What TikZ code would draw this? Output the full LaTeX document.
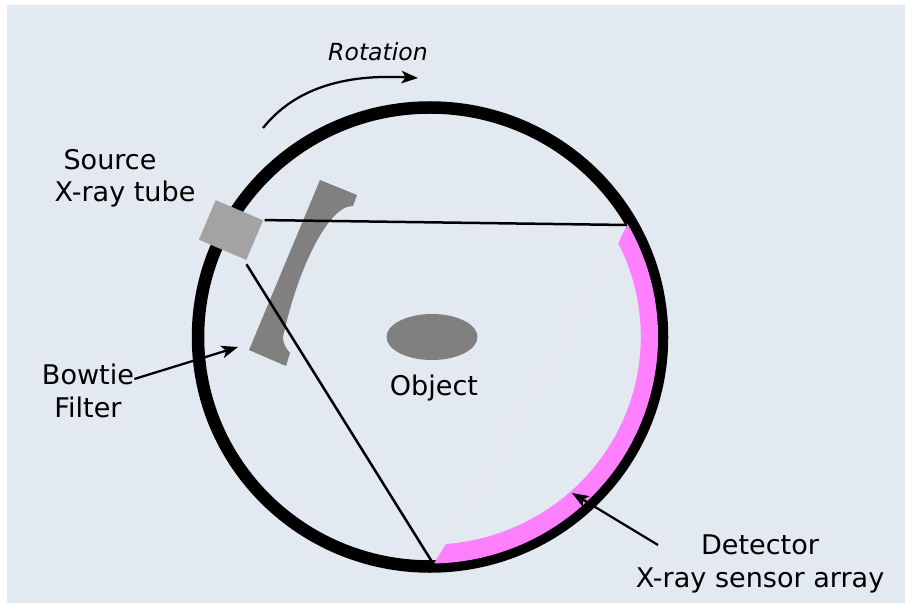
\documentclass[tikz,border=0pt]{standalone}
\usepackage{fontspec}
\setmainfont{DejaVu Sans}
\usetikzlibrary{positioning, arrows.meta, shapes.geometric}
\definecolor{panelbg}{HTML}{E2E9F0}
\definecolor{sensorpink}{HTML}{FF80FF}

\begin{document}
\begin{tikzpicture}[
    x=0.02cm,
    y=-0.02cm,
    >={Stealth[length=0.33cm, width=0.25cm, inset=0.08cm]},
    label/.style={font=\fontsize{15.4}{19}\selectfont, align=center, inner sep=0pt},
    ray/.style={line width=0.05cm},
    pointer/.style={->, line width=0.045cm}
]
\useasboundingbox (0,0) rectangle (905,604);
\fill[white] (0,0) rectangle (905,604);
\fill[panelbg] (7,5) rectangle (905,603);

% -------------------------
% GANTRY AND DETECTOR
% -------------------------
\coordinate (Centre) at (430,337);
\coordinate (RayTop) at (627,225);
\coordinate (RayBottom) at (434,565);
\coordinate (ArrayTop) at (618,243);
\coordinate (ArrayBottom) at (446,544);

\draw[line width=0.25cm] (Centre) ellipse [x radius=232, y radius=229.5];

\fill[sensorpink] (Centre) ++(-30:228 and 226.5) arc [start angle=-30, end angle=89, x radius=228, y radius=226.5]
    -- (ArrayBottom) arc [start angle=85.6, end angle=-26.7, x radius=211, y radius=208] -- cycle;
\draw[sensorpink!25, line width=0.006cm] (ArrayTop) -- (ArrayBottom);

% -------------------------
% SOURCE AND FILTER
% -------------------------
\node[draw=none, fill=black!36, rotate=-23, minimum width=1.03cm, minimum height=0.86cm, inner sep=0pt] (Tube) at (231,230) {};

\fill[black!50] (320,180) -- (357,195) -- (353,206) -- (347,207)
    .. controls (326,214) and (298,268) .. (283,337)
    .. controls (283,345) and (287,349) .. (290,353)
    -- (286,366) -- (249,350) -- cycle;

\node[ellipse, fill=black!50, minimum width=1.82cm, minimum height=0.92cm, inner sep=0pt] (Object) at (432,337) {};

% -------------------------
% BEAM EDGES
% -------------------------
\draw[ray] (Tube.north east) ++(1,0) -- (RayTop);
\draw[ray] (Tube.south east) ++(0,4) -- (RayBottom);

% -------------------------
% LABELS
% -------------------------
\node[label, font=\fontsize{13.4}{16}\selectfont\itshape] (Rotation) at (378,52) {Rotation};
\node[label] (Source) at (110,160) {Source};
\node[label] (TubeText) at (125,194) {X-ray tube};
\node[label] (Bowtie) at (88,391) {Bowtie\\Filter};
\node[label] (ObjectText) at (434,388) {Object};
\node[label] (Detector) at (760,564) {Detector\\X-ray sensor array};

% -------------------------
% POINTERS
% -------------------------
\coordinate (RotStart) at (263,128);
\coordinate (RotEnd) at (418,78);
\coordinate (FilterTip) at (238,347);
\coordinate (ArrayTip) at (572,493);
\coordinate (DetectorTail) at (658,545);

\draw[pointer] (RotStart) .. controls (295,88) and (345,74) .. (RotEnd);
\draw[pointer] (Bowtie.east |- 0,379) -- (FilterTip);
\draw[pointer] (DetectorTail) -- (ArrayTip);

\end{tikzpicture}
\end{document}
